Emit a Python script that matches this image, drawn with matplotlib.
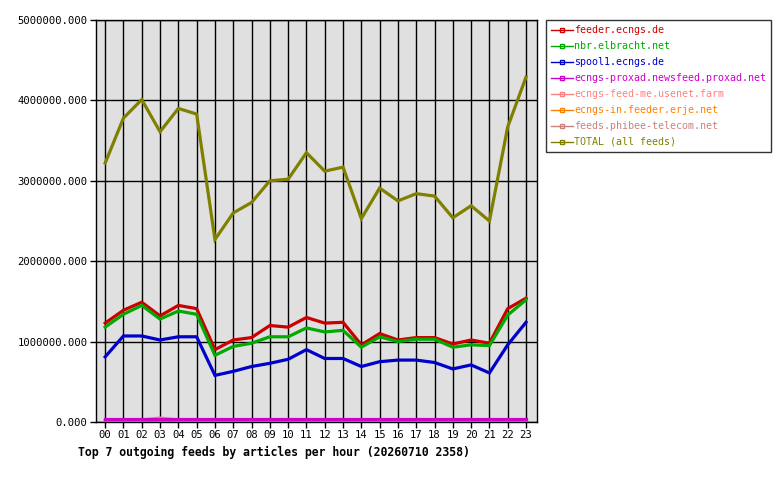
import matplotlib
matplotlib.use("Agg")
import matplotlib.pyplot as plt
from matplotlib.lines import Line2D

hours = ["%02d" % h for h in range(24)]

feeder_ecngs = [1230000, 1390000, 1490000, 1320000, 1450000, 1410000, 900000, 1020000,
                1050000, 1200000, 1180000, 1300000, 1230000, 1240000, 960000, 1100000,
                1020000, 1050000, 1050000, 970000, 1020000, 980000, 1410000, 1540000]
nbr_elbracht = [1180000, 1340000, 1450000, 1280000, 1380000, 1340000, 830000, 940000,
                980000, 1060000, 1060000, 1170000, 1120000, 1140000, 930000, 1060000,
                1000000, 1030000, 1030000, 930000, 960000, 950000, 1330000, 1520000]
spool1_ecngs = [810000, 1070000, 1070000, 1020000, 1060000, 1060000, 580000, 630000,
                690000, 730000, 780000, 900000, 790000, 790000, 690000, 750000,
                770000, 770000, 740000, 660000, 710000, 610000, 960000, 1240000]
proxad = [35000] * 24
feed_me = [25000, 25000, 25000, 50000, 25000, 25000, 25000, 25000, 25000, 25000, 25000, 25000,
           25000, 25000, 25000, 25000, 25000, 25000, 25000, 25000, 25000, 25000, 25000, 25000]
erje = [20000] * 24
phibee = [20000] * 24
total = [3220000, 3780000, 4010000, 3610000, 3900000, 3830000, 2270000, 2600000,
         2730000, 3000000, 3020000, 3350000, 3120000, 3170000, 2530000, 2910000,
         2750000, 2840000, 2810000, 2540000, 2690000, 2500000, 3670000, 4290000]

series = [
    ("feeder.ecngs.de", feeder_ecngs, "#cc0000", 4),
    ("nbr.elbracht.net", nbr_elbracht, "#00aa00", 5),
    ("spool1.ecngs.de", spool1_ecngs, "#0000cc", 6),
    ("ecngs-proxad.newsfeed.proxad.net", proxad, "#cc00cc", 3),
    ("ecngs-feed-me.usenet.farm", feed_me, "#ff8080", 2),
    ("ecngs-in.feeder.erje.net", erje, "#ff8000", 1),
    ("feeds.phibee-telecom.net", phibee, "#cc8080", 1),
    ("TOTAL (all feeds)", total, "#808000", 7),
]

plt.rcParams['font.family'] = ['DejaVu Sans Mono']

fig = plt.figure(figsize=(7.8, 4.8), dpi=100)
ax = fig.add_axes([96 / 780, 58 / 480, 441 / 780, 402 / 480])
ax.set_facecolor("#e0e0e0")

x = list(range(24))
handles = []
for name, vals, col, z in series:
    ax.plot(x, vals, color=col, lw=2.3, zorder=z, solid_joinstyle='miter')
    handles.append(Line2D([0], [0], color=col, lw=1, marker='s', markersize=2.5,
                          fillstyle='none', label=name))

ax.set_xlim(-0.5, 23.6)
ax.set_ylim(0, 5000000)
ax.set_xticks(x)
ax.set_xticklabels(hours)
yt = [0, 1000000, 2000000, 3000000, 4000000, 5000000]
ax.set_yticks(yt)
ax.set_yticklabels(["%.3f" % v for v in yt])
ax.grid(True, color="black", lw=1)
ax.set_axisbelow(True)
ax.tick_params(labelsize=7.6, length=4, width=1, color="black", pad=2)
for sp in ax.spines.values():
    sp.set_color("black")
    sp.set_linewidth(1)

fig.text(78 / 780, 1 - 452 / 480, "Top 7 outgoing feeds by articles per hour (20260710 2358)",
         fontsize=8.3, fontweight="bold", va="center", ha="left")

leg = fig.legend(handles=handles, loc="upper left", bbox_to_anchor=(546 / 780, 1 - 20 / 480),
                 fontsize=7.2, labelcolor="linecolor", frameon=True, fancybox=False,
                 handlelength=2.2, handletextpad=0.1, labelspacing=0.6, borderpad=0.5,
                 borderaxespad=0)
leg.get_frame().set_edgecolor("black")
leg.get_frame().set_linewidth(1)

fig.savefig("out.png", dpi=100)
